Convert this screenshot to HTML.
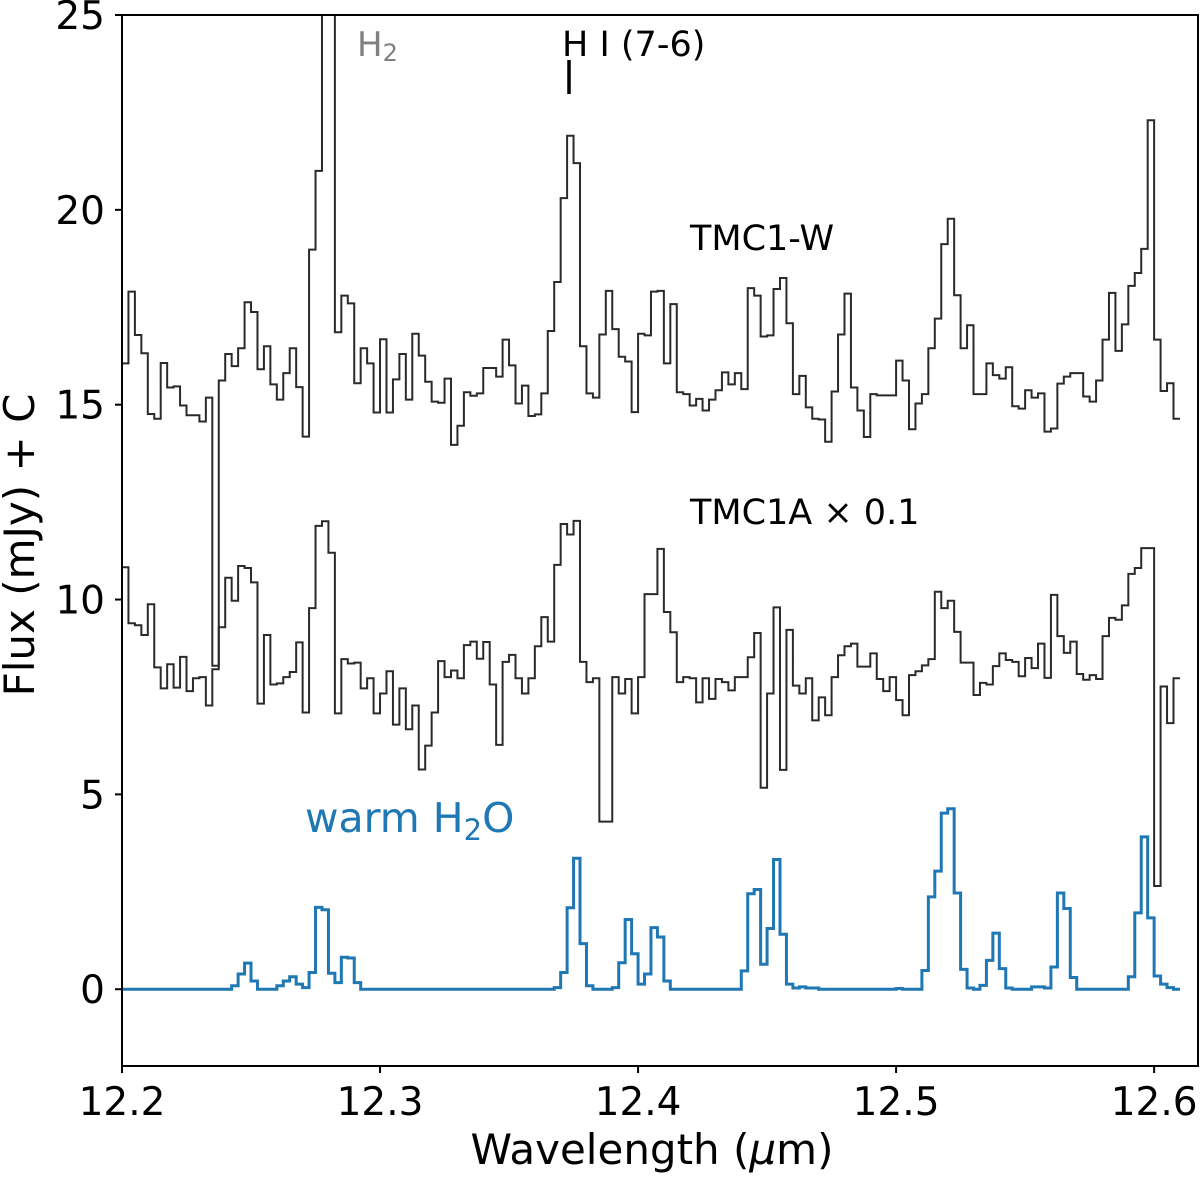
<!DOCTYPE html>
<html>
<head>
<meta charset="utf-8">
<style>
  html, body { margin: 0; padding: 0; background: #ffffff; }
  svg { display: block; }
  text { font-family: "DejaVu Sans", "Liberation Sans", sans-serif; }
</style>
</head>
<body>
<svg id="chart" width="1200" height="1177" viewBox="0 0 1200 1177" xmlns="http://www.w3.org/2000/svg">
  <defs>
    <clipPath id="plotClip"><rect x="122" y="15" width="1076" height="1051"/></clipPath>
  </defs>
  <rect x="0" y="0" width="1200" height="1177" fill="#ffffff"/>
  <g id="series" clip-path="url(#plotClip)"></g>
  <g id="axes"></g>

  <text x="357" y="56" font-size="34" fill="#808080">H<tspan font-size="24" dy="5">2</tspan></text>
  <text x="562" y="56" font-size="35" fill="#000">H I (7-6)</text>
  <line x1="569" y1="60" x2="569" y2="94" stroke="#000" stroke-width="3.5"/>
  <text x="690" y="250" font-size="35" fill="#000">TMC1-W</text>
  <text x="690" y="524" font-size="35" fill="#000">TMC1A × 0.1</text>
  <text x="305" y="832" font-size="41" fill="#1f77b4">warm H<tspan font-size="29" dy="8">2</tspan><tspan dy="-8">O</tspan></text>

  <text x="652" y="1164" font-size="42" text-anchor="middle" fill="#000">Wavelength (<tspan font-style="italic">μ</tspan>m)</text>
  <text transform="translate(34,545) rotate(-90)" font-size="42" text-anchor="middle" fill="#000">Flux (mJy) + C</text>
</svg>
<script>
// ---- data ----
const binStart = 12.2;
const binWidth = 0.0025;
const xTicks = [12.2, 12.3, 12.4, 12.5, 12.6];
const xTickLabels = ["12.2", "12.3", "12.4", "12.5", "12.6"];
const yTicks = [0, 5, 10, 15, 20, 25];
const yTickLabels = ["0", "5", "10", "15", "20", "25"];

const tmc1wFlux = [
16.06,17.9,16.79,16.32,14.76,14.64,16.07,15.44,15.47,14.98,
14.73,14.73,14.57,15.18,8.3,15.62,16.3,15.99,16.45,17.63,
17.38,15.91,16.5,15.52,15.13,15.81,16.45,15.45,14.18,18.98,
21,30,30,16.86,17.8,17.6,15.55,16.45,16.06,14.8,
16.68,14.8,15.65,16.3,15.13,16.82,16.26,15.59,15.08,15.05,
15.67,13.97,14.46,15.32,15.23,15.29,15.94,15.94,15.72,16.67,
16.01,15.03,15.49,14.71,14.75,15.29,16.89,18.15,20.3,21.9,
21.2,16.5,15.29,15.18,16.8,17.92,16.94,16.23,16.11,14.81,
16.82,16.78,17.9,17.92,16.06,17.58,15.32,15.27,14.98,15.15,
14.85,15.13,15.37,15.83,15.52,15.81,15.4,17.99,17.8,16.75,
16.78,17.97,18.25,17.09,15.27,15.74,14.93,14.64,14.62,14.05,
15.34,16.8,17.85,15.44,14.85,14.17,15.27,15.24,15.24,15.24,
16.13,15.62,14.37,15.03,15.27,16.45,17.21,19.12,19.77,17.81,
16.45,17.04,15.27,15.27,16.06,15.76,15.67,15.96,14.96,14.9,
15.37,15.18,15.29,14.31,14.39,15.54,15.72,15.81,15.81,15.21,
15.08,15.62,16.67,17.87,16.38,17.06,18.05,18.38,19.0,22.3,
16.67,15.35,15.55,14.64
];

const tmc1aFlux = [
10.83,9.39,9.34,9.09,9.88,8.26,7.72,8.34,7.74,8.53,
7.65,7.98,8.01,7.28,8.21,9.29,10.56,9.97,10.86,10.81,
10.44,7.33,9.09,7.82,7.85,8.01,8.14,8.9,7.1,9.78,
11.89,12.01,11.2,7.08,8.47,8.36,8.38,7.72,7.98,7.08,
7.59,8.16,6.79,7.72,6.67,7.28,5.64,6.25,7.1,8.42,
8.01,8.18,7.98,8.83,8.92,8.48,8.91,7.82,6.27,8.4,
8.58,7.98,7.59,7.98,8.8,9.55,8.92,10.89,11.94,11.67,
12.02,8.4,7.88,7.98,4.3,4.3,8.01,7.59,7.96,7.08,
8.01,10.14,10.14,11.3,9.68,9.16,7.88,8.01,7.98,7.36,
7.98,7.45,7.96,7.88,7.67,8.01,8.01,8.52,9.14,5.17,
7.59,9.8,5.63,9.22,7.79,7.59,7.98,6.9,7.49,7.03,
8.01,8.57,8.8,8.87,8.28,8.28,8.62,7.96,7.65,8.01,
7.42,7.03,8.06,8.16,8.31,8.47,10.2,9.78,9.97,9.17,
8.38,8.38,7.55,7.86,7.82,8.29,8.62,8.45,8.4,8.03,
8.5,8.24,8.87,7.99,10.12,9.06,8.63,8.92,8.09,7.94,
8.06,7.96,9.06,9.53,9.48,9.85,10.66,10.81,11.32,11.32,
2.65,7.77,6.83,7.98
];

const warmH2OModel = [
0,0,0,0,0,0,0,0,0,0,
0,0,0,0,0,0,0,0.09,0.39,0.67,
0.21,0,0,0,0.09,0.21,0.32,0.13,0.04,0.43,
2.1,2.04,0.41,0.17,0.82,0.8,0.17,0,0,0,
0,0,0,0,0,0,0,0,0,0,
0,0,0,0,0,0,0,0,0,0,
0,0,0,0,0,0,0,0.04,0.43,2.09,
3.36,1.17,0.09,0,0,0,0.04,0.68,1.79,0.91,
0.13,0.39,1.58,1.34,0.21,0,0,0,0,0,
0,0,0,0,0,0,0.47,2.45,2.56,0.64,
1.56,3.33,1.41,0.13,0.03,0.06,0.03,0.03,0,0,
0,0,0,0,0,0,0,0,0,0,
0.02,0,0,0,0.48,2.37,3.03,4.52,4.63,2.47,
0.51,0.03,0,0.1,0.74,1.44,0.53,0.03,0,0,
0,0.06,0.06,0.03,0.57,2.47,2.07,0.3,0,0,
0,0,0,0,0,0,0.32,1.96,3.91,1.83,
0.34,0.13,0.04,0
];

// ---- axis functions ----
const X0 = 122, X1 = 1198, Y0 = 15, Y1 = 1066;
const xMin = 12.2, xMax = 12.617, yMin = -1.97, yMax = 25;
function xScale(v) { return X0 + (v - xMin) / (xMax - xMin) * (X1 - X0); }
function yScale(v) { return Y1 - (v - yMin) / (yMax - yMin) * (Y1 - Y0); }

const NS = "http://www.w3.org/2000/svg";
const seriesG = document.getElementById("series");
const axesG = document.getElementById("axes");

function stepPath(values) {
  let d = "";
  for (let i = 0; i < values.length; i++) {
    const xa = xScale(binStart + i * binWidth);
    const xb = xScale(binStart + (i + 1) * binWidth);
    const y = yScale(values[i]);
    if (i === 0) d += "M" + xa.toFixed(2) + "," + y.toFixed(2);
    else d += "V" + y.toFixed(2);
    d += "H" + xb.toFixed(2);
  }
  return d;
}

const p1 = document.createElementNS(NS, "path");
p1.setAttribute("d", stepPath(tmc1wFlux));
p1.setAttribute("fill", "none");
p1.setAttribute("stroke", "#2a2a2a");
p1.setAttribute("stroke-width", "2");


seriesG.appendChild(p1);

const p2 = document.createElementNS(NS, "path");
p2.setAttribute("d", stepPath(tmc1aFlux));
p2.setAttribute("fill", "none");
p2.setAttribute("stroke", "#2a2a2a");
p2.setAttribute("stroke-width", "2");


seriesG.appendChild(p2);

const p3 = document.createElementNS(NS, "path");
p3.setAttribute("d", "M" + X0 + "," + yScale(0).toFixed(2) + "H" + xScale(binStart).toFixed(2) + stepPath(warmH2OModel).replace(/^M[^H]*/, function (m) { return "V" + m.split(",")[1]; }));
p3.setAttribute("fill", "none");
p3.setAttribute("stroke", "#1f77b4");
p3.setAttribute("stroke-width", "3");


seriesG.appendChild(p3);

// frame
const frame = document.createElementNS(NS, "rect");
frame.setAttribute("x", X0); frame.setAttribute("y", Y0);
frame.setAttribute("width", X1 - X0); frame.setAttribute("height", Y1 - Y0);
frame.setAttribute("fill", "none"); frame.setAttribute("stroke", "#000"); frame.setAttribute("stroke-width", "2");


axesG.appendChild(frame);

// x ticks
for (let i = 0; i < xTicks.length; i++) {
  const x = xScale(xTicks[i]);
  const t = document.createElementNS(NS, "line");
  t.setAttribute("x1", x); t.setAttribute("x2", x);
  t.setAttribute("y1", Y1); t.setAttribute("y2", Y1 + 7);
  t.setAttribute("stroke", "#000"); t.setAttribute("stroke-width", "2");
  
  
  axesG.appendChild(t);
  const lb = document.createElementNS(NS, "text");
  lb.setAttribute("x", x); lb.setAttribute("y", 1115);
  lb.setAttribute("font-size", "39"); lb.setAttribute("text-anchor", "middle");
  lb.textContent = xTickLabels[i];
  
  
  axesG.appendChild(lb);
}
// y ticks
for (let i = 0; i < yTicks.length; i++) {
  const y = yScale(yTicks[i]);
  const t = document.createElementNS(NS, "line");
  t.setAttribute("x1", X0 - 7); t.setAttribute("x2", X0);
  t.setAttribute("y1", y); t.setAttribute("y2", y);
  t.setAttribute("stroke", "#000"); t.setAttribute("stroke-width", "2");
  
  
  axesG.appendChild(t);
  const lb = document.createElementNS(NS, "text");
  lb.setAttribute("x", 105); lb.setAttribute("y", y + 14);
  lb.setAttribute("font-size", "39"); lb.setAttribute("text-anchor", "end");
  lb.textContent = yTickLabels[i];
  
  
  axesG.appendChild(lb);
}
</script>
</body>
</html>
